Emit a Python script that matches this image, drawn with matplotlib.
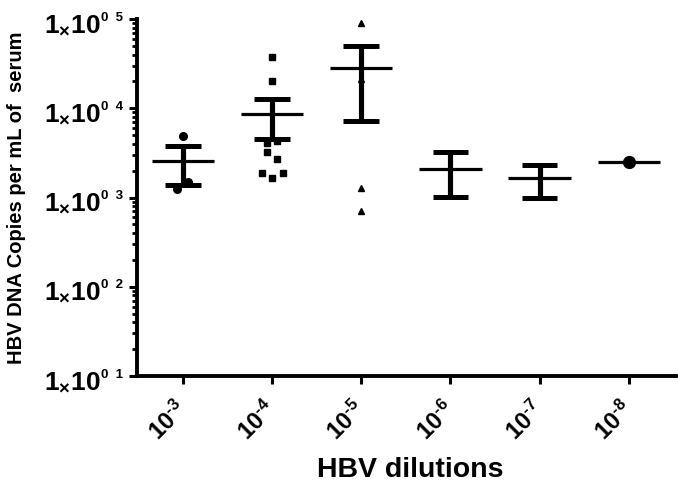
import numpy as np
import matplotlib
matplotlib.use('Agg')
import matplotlib.pyplot as plt
from matplotlib.ticker import FixedLocator, LogLocator, NullFormatter

plt.rcParams['font.family'] = ['Liberation Sans', 'DejaVu Sans']
plt.rcParams['font.weight'] = 'bold'
plt.rcParams['mathtext.fontset'] = 'custom'
plt.rcParams['mathtext.rm'] = 'Liberation Sans:bold'
plt.rcParams['mathtext.it'] = 'Liberation Sans:bold'
plt.rcParams['mathtext.bf'] = 'Liberation Sans:bold'
plt.rcParams['mathtext.default'] = 'rm'

# ---- data ----
dilution_labels = [r'10$^{\text{-3}}$', r'10$^{\text{-4}}$', r'10$^{\text{-5}}$',
                   r'10$^{\text{-6}}$', r'10$^{\text{-7}}$', r'10$^{\text{-8}}$']
d3 = [4930, 1480, 1250]
d4 = [37200, 20000, 4300, 4080, 3240, 2730, 1900, 1900, 1640]
d5 = [91000, 21300, 1290, 708]
d6 = [3210, 1010]
d7 = [2320, 1000]
d8 = [2500]
ytick_values = [1e1, 1e2, 1e3, 1e4, 1e5]
ytick_main = [r'$1_{\times}10$'] * 5
ytick_exp = ['0  1', '0  2', '0  3', '0  4', '0  5']
ylabel = 'HBV DNA Copies per mL of  serum'
xlabel = 'HBV dilutions'

# ---- styles / layout ----
groups = [d3, d4, d5, d6, d7, d8]
markers = ['o', 's', '^', 'o', 'o', 'o']
msizes = [5.5, 5, 5, 2.5, 2.5, 8.5]
jitter = [[0, 0.06, -0.07],
          [0, 0, 0.06, -0.06, -0.06, 0.06, -0.11, 0.12, 0],
          [0, 0, 0, 0],
          [0, 0],
          [0, 0],
          [0]]

fig = plt.figure(figsize=(6.83, 4.92), dpi=100)
ax = fig.add_axes([137/683, 1-376/492, (676-137)/683, (376-19)/492])
ax.set_yscale('log')

for i, vals in enumerate(groups):
    x = i + 1
    v = np.array(vals, dtype=float)
    m = v.mean()
    ax.plot(x + np.array(jitter[i]), v, linestyle='none', marker=markers[i],
            markersize=msizes[i], color='black', zorder=3)
    ax.hlines(m, x - 0.35, x + 0.35, color='black', lw=2.3, capstyle='butt', zorder=4)
    if len(v) > 1:
        se = v.std(ddof=1) / np.sqrt(len(v))
        ax.vlines(x, m - se, m + se, color='black', lw=3.7, capstyle='butt', zorder=4)
        ax.hlines([m - se, m + se], x - 0.2, x + 0.2, color='black', lw=3.6,
                  capstyle='butt', zorder=4)

ax.set_xlim(0.485, 6.53)
ax.set_ylim(1e1, 1e5)

# x ticks and labels
ax.set_xticks(range(1, len(groups) + 1))
ax.set_xticklabels([])
for i, lab in enumerate(dilution_labels):
    ax.annotate(lab, xy=(i + 1, 0), xycoords=('data', 'axes fraction'),
                xytext=(-6, -15), textcoords='offset points',
                rotation=45, rotation_mode='anchor', ha='right', va='top',
                fontsize=17, fontweight='bold', annotation_clip=False)

# y ticks and labels
ax.yaxis.set_major_locator(FixedLocator(ytick_values))
ax.yaxis.set_minor_locator(LogLocator(base=10, subs=np.arange(2, 10)))
ax.yaxis.set_minor_formatter(NullFormatter())
ax.set_yticklabels([])
for v, main, ex in zip(ytick_values, ytick_main, ytick_exp):
    ax.annotate(main, xy=(0, v), xycoords=('axes fraction', 'data'),
                xytext=(-26.5, -9.4), textcoords='offset points',
                ha='right', va='baseline', fontsize=19, fontweight='bold',
                annotation_clip=False)
    ax.annotate(ex, xy=(0, v), xycoords=('axes fraction', 'data'),
                xytext=(-10, 1), textcoords='offset points',
                ha='right', va='center', fontsize=9.5, fontweight='bold',
                annotation_clip=False)

ax.tick_params(axis='both', which='major', direction='out', length=6, width=2.2, color='black')
ax.tick_params(axis='y', which='minor', direction='out', length=3.5, width=2, color='black')
for s in ['top', 'right']:
    ax.spines[s].set_visible(False)
for s in ['left', 'bottom']:
    ax.spines[s].set_linewidth(2.8)

ax.set_xlabel(xlabel, fontsize=20.5, fontweight='bold', va='top')
ax.xaxis.set_label_coords(0.507, -0.227)
ax.set_ylabel(ylabel, fontsize=14.5, fontweight='bold')
ax.yaxis.set_label_coords(-0.206, 0.5)

fig.savefig('out.png', dpi=100)
